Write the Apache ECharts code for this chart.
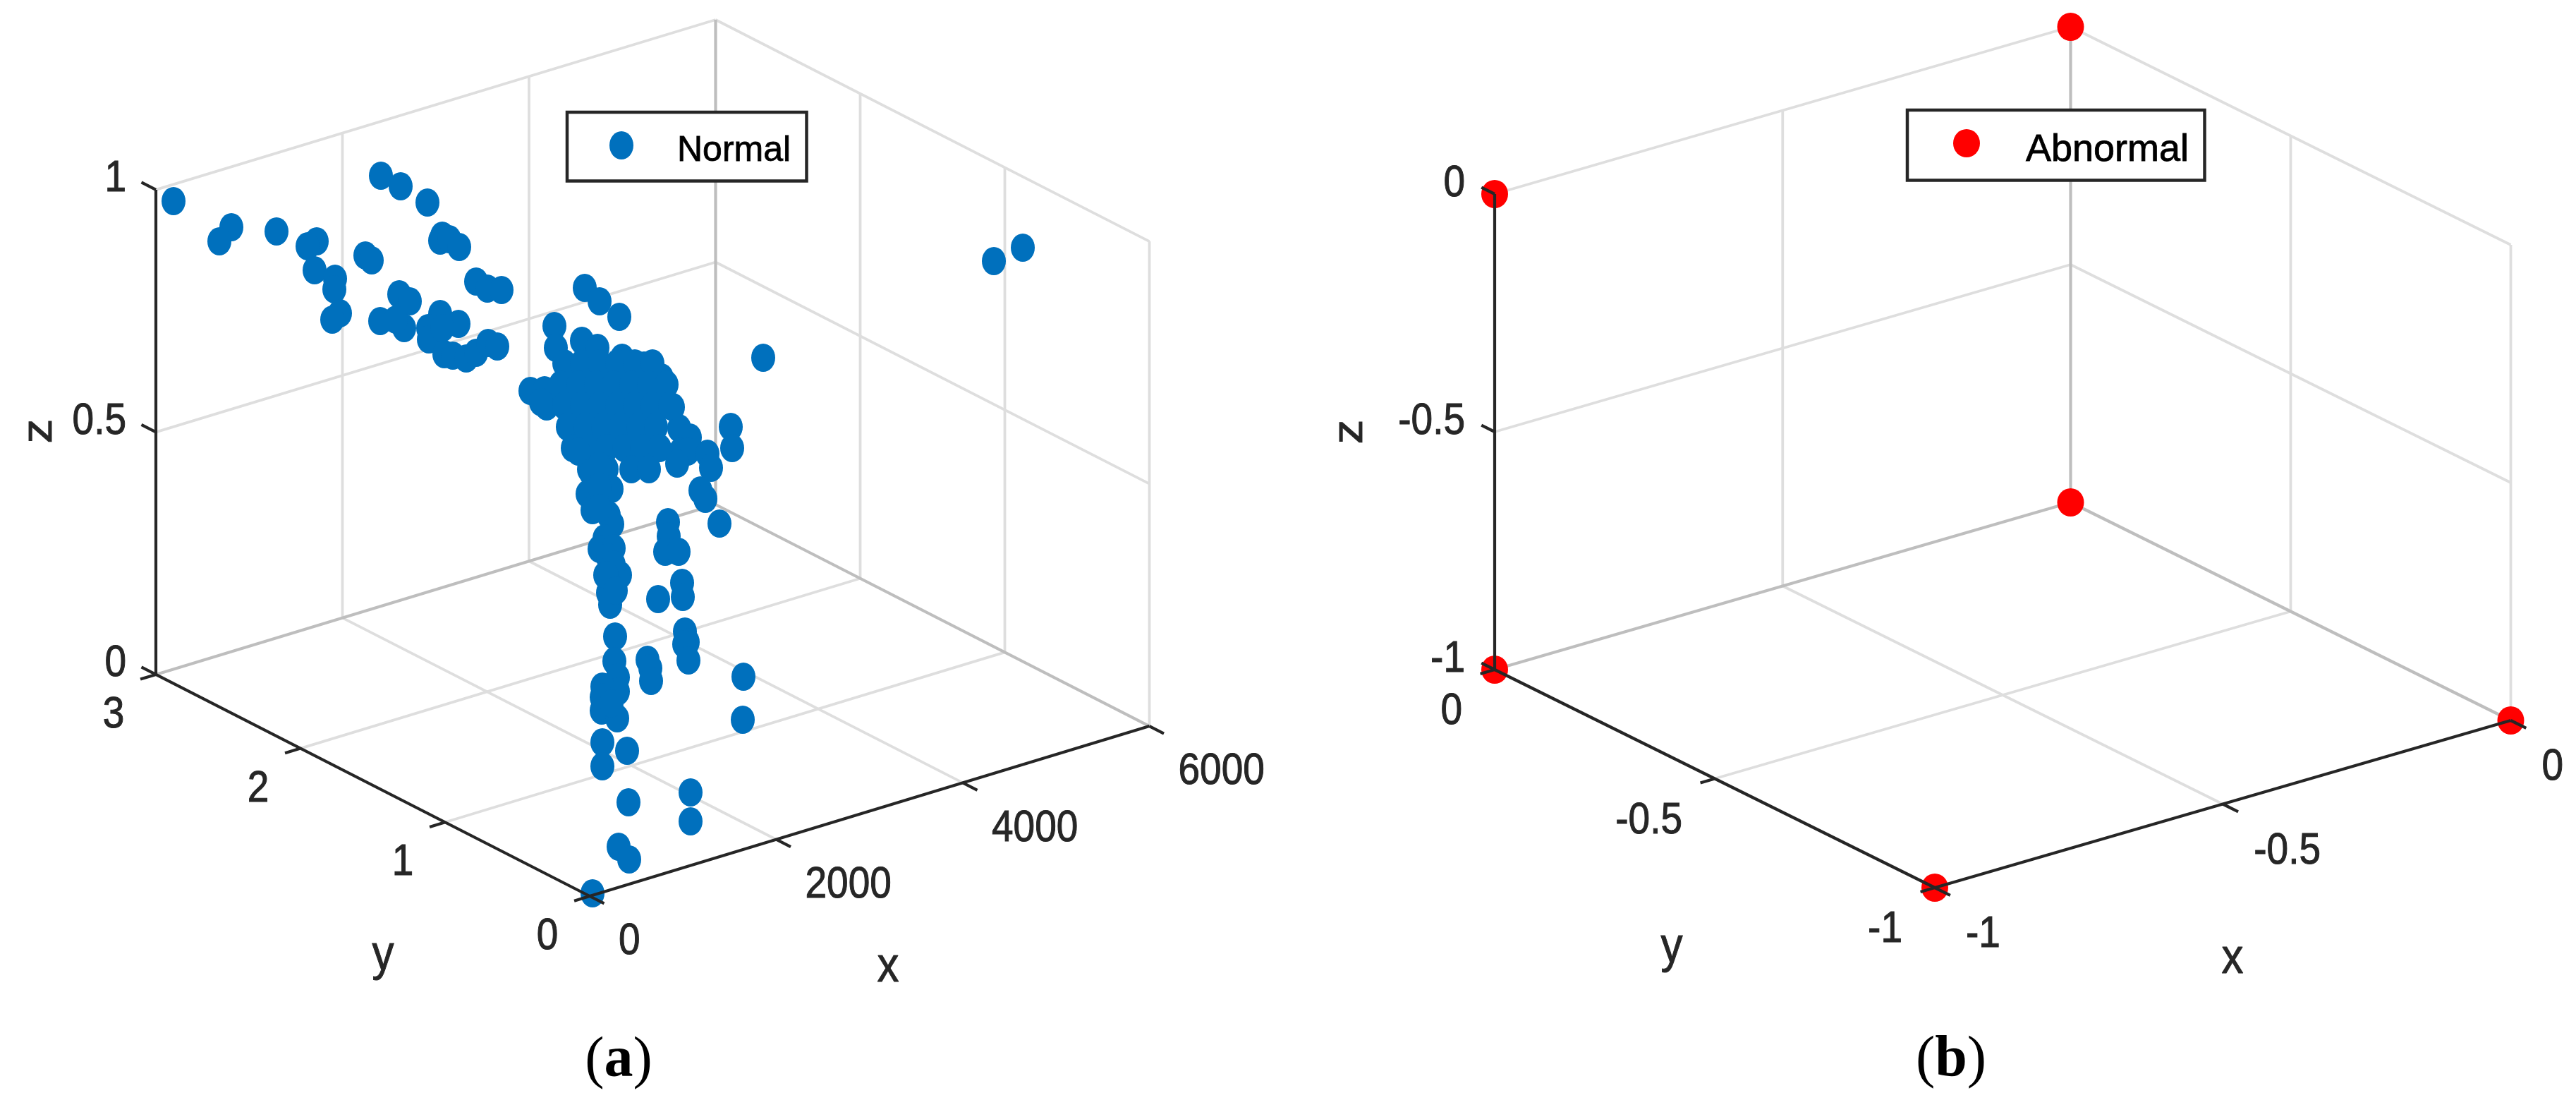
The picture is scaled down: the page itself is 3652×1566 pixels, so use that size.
<!DOCTYPE html>
<html><head><meta charset="utf-8">
<style>html,body{margin:0;padding:0;background:#fff}#c{width:3652px;height:1566px}</style>
<script src="https://cdn.jsdelivr.net/npm/echarts@6/dist/echarts.min.js"></script>
</head><body><div id="c"></div>
<script>
// Panel (a): tick values
const xTicksA = [0, 2000, 4000, 6000];
const yTicksA = [0, 1, 2, 3];
const zTicksA = [0, 0.5, 1];
// Panel (a): only the projected position of each point can be read from a 3D view,
// so the values are kept in the picture plane of that view.
const normalU = [246,328,311,392,540,568,606,449,436,446,475,474,482,471,518,527,627,624,637,651,675,691,711,566,581,539,573,561,624,650,607,608,627,630,642,661,675,692,705,786,788,829,850,878,1082,1409,1450,
752,772,775,767,825,847,882,913,938,942,954,963,978,
800,825,850,875,900,925,
795,820,845,870,895,920,945,
800,825,850,875,900,925,950,
805,830,855,880,905,930,
812,835,860,885,910,935,
835,860,895,920,
820,838,833,867,840,863,868,857,850,870,858,879,
850,850,850,862,870,862,965,975,
960,1003,1008,993,1000,1036,1038,1020,947,948,943,962,967,
860,865,873,933,968,971,975,970,976,872,871,876,876,854,853,853,875,867,918,922,923,1054,1053,854,889,854,891,979,979,877,892,840];
const normalV = [285,322,342,328,249,264,287,342,349,383,395,410,444,453,362,369,334,341,339,350,399,409,411,417,427,455,465,453,445,459,465,481,465,502,504,508,500,486,491,462,493,408,427,449,507,370,351,
554,553,576,570,483,493,507,518,535,547,577,607,620,
515,515,515,515,515,515,
545,545,545,545,545,545,545,
575,575,575,575,575,575,575,
605,605,605,605,605,605,
635,635,635,635,635,635,
665,665,665,665,
640,670,700,693,723,730,743,763,778,777,815,815,
660,690,720,790,800,840,640,640,
657,643,663,695,707,605,635,742,740,760,782,782,826,
815,857,837,849,846,895,910,913,936,902,937,960,980,973,988,1007,1018,997,935,947,965,959,1020,1052,1064,1086,1137,1123,1164,1200,1218,1266];
// Panel (b): tick values and the six points
const xTicksB = [-1, -0.5, 0];
const yTicksB = [-1, -0.5, 0];
const zTicksB = [-1, -0.5, 0];
const abnormalX = [-1, 0, 0, -1, -1, 0];
const abnormalY = [0, 0, 0, 0, -1, -1];
const abnormalZ = [0, 0, -1, -1, -1, -1];

// View of each 3D box on the page
const projA = (x, y, z) => [836 + 0.13225 * x - 205 * y, 1270 - 0.04015 * x - 104.7 * y - 687 * z];
const projB = (x, y, z) => [3559.5 + 816.5 * x - 624 * (y + 1), 1021 - 237 * x - 309 * (y + 1) - 674 * (z + 1)];

const gridLight = [], gridDark = [], axisDark = [];
const seg = (list, p, a, b) => list.push([...p(...a), ...p(...b)]);

// Panel (a) box
[0.5, 1].forEach(z => { seg(gridLight, projA, [0,3,z], [6000,3,z]); seg(gridLight, projA, [6000,3,z], [6000,0,z]); });
[2000, 4000].forEach(x => { seg(gridLight, projA, [x,3,0], [x,3,1]); seg(gridLight, projA, [x,0,0], [x,3,0]); });
[2, 1, 0].forEach(y => seg(gridLight, projA, [6000,y,0], [6000,y,1]));
[1, 2].forEach(y => seg(gridLight, projA, [0,y,0], [6000,y,0]));
seg(gridDark, projA, [0,3,0], [6000,3,0]);
seg(gridDark, projA, [6000,3,0], [6000,0,0]);
seg(gridDark, projA, [6000,3,0], [6000,3,1]);
seg(axisDark, projA, [0,3,0], [0,3,1]);
seg(axisDark, projA, [0,0,0], [6000,0,0]);
seg(axisDark, projA, [0,0,0], [0,3,0]);
xTicksA.forEach(x => seg(axisDark, projA, [x,0,0], [x,-0.1,0]));
yTicksA.forEach(y => seg(axisDark, projA, [0,y,0], [-166,y,0]));
zTicksA.forEach(z => seg(axisDark, projA, [0,3,z], [0,3.1,z]));

// Panel (b) box
[-0.5, 0].forEach(z => { seg(gridLight, projB, [-1,0,z], [0,0,z]); seg(gridLight, projB, [0,0,z], [0,-1,z]); });
[-0.5].forEach(x => { seg(gridLight, projB, [x,0,-1], [x,0,0]); seg(gridLight, projB, [x,-1,-1], [x,0,-1]); });
[-0.5, -1].forEach(y => seg(gridLight, projB, [0,y,-1], [0,y,0]));
seg(gridLight, projB, [-1,-0.5,-1], [0,-0.5,-1]);
seg(gridDark, projB, [-1,0,-1], [0,0,-1]);
seg(gridDark, projB, [0,0,-1], [0,-1,-1]);
seg(gridDark, projB, [0,0,-1], [0,0,0]);
seg(axisDark, projB, [-1,0,-1], [-1,0,0]);
seg(axisDark, projB, [-1,-1,-1], [0,-1,-1]);
seg(axisDark, projB, [-1,-1,-1], [-1,0,-1]);
xTicksB.forEach(x => seg(axisDark, projB, [x,-1,-1], [x,-1.035,-1]));
yTicksB.forEach(y => seg(axisDark, projB, [-1,y,-1], [-1.025,y,-1]));
zTicksB.forEach(z => seg(axisDark, projB, [-1,0,z], [-1,0.03,z]));

// Texts
const texts = [];
const tickFont = 55, titleFont = 62, stretch = 1.13;
const addText = (u, v, text, align, opt) => texts.push({ value: [u, v], text, align, size: tickFont, ...opt });
const offset = (p, dx, dy) => [p[0] + dx, p[1] + dy];
xTicksA.forEach(x => addText(...offset(projA(x,0,0), 41, 65), String(x), 'left'));
yTicksA.forEach(y => addText(...offset(projA(0,y,0), -60, 58), String(y), 'center'));
zTicksA.forEach(z => addText(...offset(projA(0,3,z), -42, -15), String(z), 'right'));
xTicksB.forEach(x => addText(...offset(projB(x,-1,-1), 44, 67), String(x), 'left'));
yTicksB.forEach(y => addText(...offset(projB(-1,y,-1), -46, 60), String(y), 'right'));
zTicksB.forEach(z => addText(...offset(projB(-1,0,z), -42, -14), String(z), 'right'));
addText(1259, 1372, 'x', 'center', { size: titleFont });
addText(543, 1355, 'y', 'center', { size: titleFont });
addText(56, 611, 'z', 'center', { rotate: true, size: titleFont });
addText(3165, 1360, 'x', 'center', { size: titleFont });
addText(2370, 1344, 'y', 'center', { size: titleFont });
addText(1914, 612, 'z', 'center', { rotate: true, size: titleFont });
const captions = [
  { value: [877, 1504], letter: 'a' },
  { value: [2766, 1503], letter: 'b' }
];

const lineSeries = (name, list, color, width, z) => ({
  type: 'custom', name, data: list, z, silent: true, clip: false,
  renderItem: (params, api) => {
    const a = api.coord([api.value(0), api.value(1)]);
    const b = api.coord([api.value(2), api.value(3)]);
    return { type: 'line', shape: { x1: a[0], y1: a[1], x2: b[0], y2: b[1] },
             style: { stroke: color, lineWidth: width, lineCap: 'butt', fill: null } };
  }
});

const chart = echarts.init(document.getElementById('c'), null, { renderer: 'canvas' });
const legendBase = {
  orient: 'horizontal', selectedMode: false,
  icon: 'path://M50 0A50 50 0 1 1 50 100A50 50 0 1 1 50 0Z', symbolKeepAspect: false,
  backgroundColor: '#fff', borderColor: '#262626', borderWidth: 4.5, borderRadius: 0,
  itemGap: 0, formatter: '{t|{name}}'
};
const legendRich = (size, top) => ({ t: { fontFamily: 'Liberation Sans', fontSize: size, color: '#000',
  textBorderColor: '#000', textBorderWidth: 0.8, padding: [top, 0, 0, 0] } });
chart.setOption({
  animation: false,
  backgroundColor: '#fff',
  grid: { left: 0, right: 0, top: 0, bottom: 0 },
  xAxis: { type: 'value', min: 0, max: 3652, show: false },
  yAxis: { type: 'value', min: 0, max: 1566, inverse: true, show: false },
  legend: [
    { ...legendBase, data: ['Normal'], left: 804, top: 159, itemWidth: 34, itemHeight: 40,
      padding: [27, 22, 17, 60],
      textStyle: { padding: [0, 0, 0, 57], rich: legendRich(50, 16) } },
    { ...legendBase, data: ['Abnormal'], left: 2704, top: 156, itemWidth: 38, itemHeight: 40,
      padding: [27, 22, 15, 65],
      textStyle: { padding: [0, 0, 0, 60], rich: legendRich(54, 20) } }
  ],
  series: [
    lineSeries('gridLight', gridLight, '#dedede', 3.8, 1),
    lineSeries('gridDark', gridDark, '#bebebe', 4.2, 1),
    { type: 'scatter', name: 'Normal', z: 2, symbol: 'circle', symbolSize: [34, 40],
      itemStyle: { color: '#0070bd', opacity: 1 }, silent: true,
      data: normalU.map((u, i) => [u, normalV[i]]) },
    { type: 'scatter', name: 'Abnormal', z: 2, symbol: 'circle', symbolSize: [38, 40],
      itemStyle: { color: '#ff0000', opacity: 1 }, silent: true,
      data: abnormalX.map((x, i) => projB(x, abnormalY[i], abnormalZ[i])) },
    lineSeries('axes', axisDark, '#262626', 4.2, 3),
    { type: 'custom', name: 'labels', z: 3, silent: true, clip: false, data: texts,
      renderItem: (params, api) => {
        const t = texts[params.dataIndex];
        const c = api.coord(t.value);
        return { type: 'text', x: c[0], y: c[1],
          rotation: t.rotate ? Math.PI / 2 : 0,
          scaleX: t.rotate ? stretch : 1, scaleY: t.rotate ? 1 : stretch,
          style: { text: t.text, fontFamily: 'Liberation Sans', fontSize: t.size, fill: '#262626',
                   stroke: '#262626', lineWidth: 0.9,
                   align: t.align, verticalAlign: 'middle' } };
      } },
    { type: 'custom', name: 'captions', z: 3, silent: true, clip: false, data: captions,
      renderItem: (params, api) => {
        const t = captions[params.dataIndex];
        const c = api.coord(t.value);
        return { type: 'text', x: c[0], y: c[1],
          style: { text: '{p|(}{l|' + t.letter + '}{p|)}', align: 'center', verticalAlign: 'middle',
            rich: { p: { fontFamily: 'Liberation Serif', fontSize: 82, fill: '#000' },
                    l: { fontFamily: 'Liberation Serif', fontSize: 82, fontWeight: 'bold', fill: '#000' } } } };
      } }
  ]
});
</script></body></html>
